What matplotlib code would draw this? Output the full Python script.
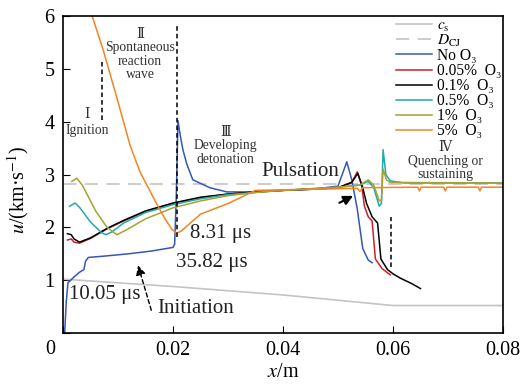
import numpy as np
import matplotlib
matplotlib.use("Agg")
import matplotlib.pyplot as plt

plt.rcParams['font.family'] = ['Liberation Serif', 'DejaVu Serif']
plt.rcParams['mathtext.fontset'] = 'stix'

# sound speed and CJ speed
cs_x = [0, 0.02, 0.04, 0.06, 0.08]
cs_y = [1.02, 0.88, 0.72, 0.52, 0.52]
dcj = 2.82

# No O3
blue_x = [0.0003, 0.0006, 0.0009, 0.002, 0.003, 0.0038, 0.0041, 0.0046, 0.008, 0.012, 0.016, 0.0200,
          0.0203, 0.0206, 0.0209, 0.0213, 0.0218, 0.0225, 0.0236, 0.0267, 0.0298, 0.034, 0.040, 0.046,
          0.050, 0.0516, 0.0525, 0.0535, 0.0545, 0.0555, 0.0562]
blue_y = [0.0, 0.6, 0.95, 1.06, 1.15, 1.2, 1.36, 1.43, 1.46, 1.50, 1.55, 1.62,
          1.68, 2.6, 4.02, 3.75, 3.47, 3.2, 2.9, 2.75, 2.67, 2.67, 2.70, 2.73,
          2.78, 3.24, 2.9, 2.35, 1.6, 1.38, 1.33]

# 0.05% O3
red_x = [0.0008, 0.0015, 0.002, 0.003, 0.005, 0.008, 0.011, 0.015, 0.02, 0.025, 0.03, 0.035, 0.04,
         0.045, 0.05, 0.0525, 0.0535, 0.0543, 0.0548, 0.0555, 0.0562, 0.0568, 0.058, 0.0595]
red_y = [1.76, 1.78, 1.72, 1.70, 1.79, 1.97, 2.12, 2.3, 2.45, 2.56, 2.63, 2.67, 2.7,
         2.72, 2.75, 2.85, 3.05, 2.8, 2.4, 2.2, 2.12, 1.4, 1.22, 1.1]

# 0.1% O3
black_x = [0.0008, 0.0015, 0.002, 0.003, 0.005, 0.008, 0.011, 0.015, 0.02, 0.025, 0.03, 0.035, 0.04,
           0.045, 0.05, 0.0525, 0.0536, 0.0545, 0.0552, 0.0562, 0.0572, 0.0578, 0.059, 0.060,
           0.0613, 0.0635, 0.065]
black_y = [1.88, 1.86, 1.78, 1.72, 1.8, 1.98, 2.13, 2.31, 2.46, 2.57, 2.63, 2.67, 2.7,
           2.72, 2.75, 2.85, 3.02, 2.75, 2.45, 2.2, 2.08, 1.4, 1.2, 1.12,
           1.04, 0.93, 0.84]

# 0.5% O3
teal_x = [0.0012, 0.0022, 0.003, 0.005, 0.007, 0.0078, 0.009, 0.011, 0.015, 0.02, 0.025, 0.03, 0.04,
          0.05, 0.054, 0.0555, 0.0565, 0.0575, 0.0579, 0.0582, 0.0587, 0.0595, 0.062, 0.08]
teal_y = [2.4, 2.46, 2.38, 2.1, 1.9, 1.86, 1.92, 2.08, 2.28, 2.43, 2.54, 2.62, 2.7,
          2.76, 2.8, 2.87, 2.75, 2.4, 2.45, 3.47, 3.0, 2.88, 2.84, 2.84]

# 1% O3
olive_x = [0.0016, 0.0025, 0.0035, 0.006, 0.008, 0.0098, 0.0115, 0.015, 0.02, 0.025, 0.03, 0.035, 0.04,
           0.05, 0.054, 0.0555, 0.0565, 0.0575, 0.0579, 0.0582, 0.0588, 0.0595, 0.08]
olive_y = [2.87, 2.93, 2.8, 2.3, 2.0, 1.86, 1.95, 2.16, 2.37, 2.5, 2.6, 2.66, 2.7,
           2.76, 2.8, 2.9, 2.8, 2.5, 2.52, 3.1, 2.9, 2.85, 2.84]

# 5% O3
orange_x = [0.0053, 0.0073, 0.0098, 0.0122, 0.014, 0.0155, 0.017, 0.0185, 0.0198, 0.0207, 0.0215,
            0.025, 0.03, 0.033, 0.035, 0.04, 0.05, 0.0535, 0.054, 0.0545, 0.0645, 0.0648, 0.0651,
            0.0692, 0.0695, 0.0698, 0.0755, 0.0758, 0.0761, 0.08]
orange_y = [6.0, 5.36, 4.45, 3.55, 3.05, 2.75, 2.45, 2.17, 1.96, 1.89, 1.93,
            2.25, 2.45, 2.6, 2.7, 2.71, 2.73, 2.74, 2.68, 2.75, 2.76, 2.69, 2.76,
            2.76, 2.69, 2.76, 2.76, 2.69, 2.76, 2.76]

labels = [r'$c_{\mathrm{s}}$', r'$D_{\mathrm{CJ}}$', 'No O₃', '0.05%  O₃', '0.1%  O₃',
          '0.5%  O₃', '1%  O₃', '5%  O₃']

fig = plt.figure(figsize=(5.21, 3.92), dpi=100)
ax = fig.add_axes([63/521, 59/392, 440/521, 317/392])

ax.plot(cs_x, cs_y, color='#c4c4c4', lw=1.2, label=labels[0])
ax.plot([0, 0.08], [dcj, dcj], color='#c4c4c4', lw=1.2, ls=(0, (8, 5)), label=labels[1])
ax.plot(blue_x, blue_y, color='#3557b7', lw=1.1, label=labels[2])
ax.plot(red_x, red_y, color='#d0202a', lw=1.1, label=labels[3])
ax.plot(black_x, black_y, color='black', lw=1.1, label=labels[4])
ax.plot(teal_x, teal_y, color='#22a9a9', lw=1.1, label=labels[5])
ax.plot(olive_x, olive_y, color='#a3a332', lw=1.1, label=labels[6])
ax.plot(orange_x, orange_y, color='#f58426', lw=1.1, label=labels[7])

# stage boundaries
ax.plot([0.0071, 0.0071], [4.03, 5.19], 'k--', lw=1.1, dashes=(3, 2))
ax.plot([0.0208, 0.0208], [1.82, 5.85], 'k--', lw=1.1, dashes=(3, 2))
ax.plot([0.0596, 0.0596], [1.25, 2.2], 'k--', lw=1.1, dashes=(3, 2))

ax.text(0.0044, 4.13, 'Ⅰ', ha='center', va='center', fontsize=9.8, color='#333333')
ax.text(0.0044, 3.84, 'Ignition', ha='center', va='center', fontsize=9.8, color='#333333')
ax.text(0.014, 5.27, 'Ⅱ\nSpontaneous\nreaction\nwave', ha='center', va='center', fontsize=9.8,
        linespacing=1.05, color='#333333')
ax.text(0.0295, 3.54, 'Ⅲ\nDeveloping\ndetonation', ha='center', va='center', fontsize=9.8,
        linespacing=1.05, color='#333333')
ax.text(0.0695, 3.25, 'Ⅳ\nQuenching or\nsustaining', ha='center', va='center', fontsize=9.8,
        linespacing=1.05, color='#333333')
ax.text(0.0431, 3.05, 'Pulsation', ha='center', va='center', fontsize=15, color='#222222')
ax.text(0.0231, 1.89, '8.31 μs', ha='left', va='center', fontsize=15, color='#222222')
ax.text(0.0205, 1.34, '35.82 μs', ha='left', va='center', fontsize=15, color='#222222')
ax.text(0.0011, 0.72, '10.05 μs', ha='left', va='center', fontsize=15, color='#222222')
ax.text(0.0171, 0.47, 'Initiation', ha='left', va='center', fontsize=15, color='#222222')

ax.annotate('', xy=(0.0135, 1.33), xytext=(0.0162, 0.38),
            arrowprops=dict(arrowstyle='-|>', color='black', lw=1, ls=(0, (3, 2)), mutation_scale=14))
ax.annotate('', xy=(0.0532, 2.62), xytext=(0.0498, 2.44),
            arrowprops=dict(arrowstyle='-|>', color='black', lw=1.5, mutation_scale=14))

ax.set_xlim(0, 0.08)
ax.set_ylim(0, 6)
ax.set_xticks([0, 0.02, 0.04, 0.06, 0.08])
ax.set_xticklabels(['', '0.02', '0.04', '0.06', '0.08'])
ax.set_yticks([0, 1, 2, 3, 4, 5, 6])
ax.set_yticklabels(['', '1', '2', '3', '4', '5', '6'])
ax.tick_params(direction='in', length=5, labelsize=14.5, pad=6, top=False, right=False)
fig.text(50/521, 1 - 350/392, '0', ha='center', va='center', fontsize=14.5)
ax.set_xlabel('$x$/m', fontsize=14.5, labelpad=2)
ax.set_ylabel('$u$/(km·s$^{-1}$)', fontsize=14.5)
ax.yaxis.set_label_coords(-0.073, 0.45)
for s in ax.spines.values():
    s.set_linewidth(1.2)

ax.legend(loc='upper right', bbox_to_anchor=(1.0, 1.0), frameon=False, fontsize=11.2,
          handlelength=2.3, labelspacing=-0.06, handletextpad=0.35, borderaxespad=0.0,
          borderpad=0.1)

fig.savefig('out.png', dpi=100)
